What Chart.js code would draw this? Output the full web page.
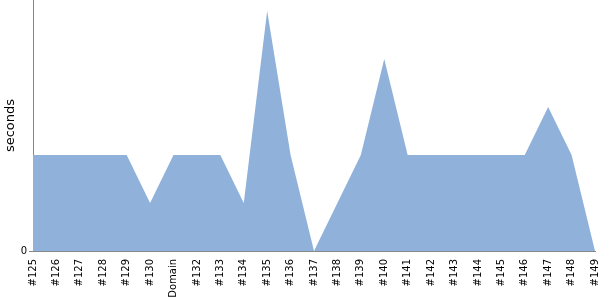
<!DOCTYPE html>
<html><head><meta charset="utf-8">
<script src="https://cdn.jsdelivr.net/npm/chart.js@4/dist/chart.umd.min.js"></script>
<style>html,body{margin:0;padding:0;background:#fff}#w{width:600px;height:300px}</style>
</head><body><div id="w"><canvas id="c"></canvas></div>
<script>
const categories = ["#125","#126","#127","#128","#129","#130","Domain","#132","#133","#134","#135","#136","#137","#138","#139","#140","#141","#142","#143","#144","#145","#146","#147","#148","#149"];
const seconds = [2,2,2,2,2,1,2,2,2,1,5,2,0,1,2,4,2,2,2,2,2,2,3,2,0];
const yTicks = [0];
const FONT = "'DejaVu Sans', sans-serif";
new Chart(document.getElementById('c'), {
  type: 'line',
  data: { labels: categories, datasets: [{ data: seconds, fill: 'origin', backgroundColor: 'rgb(143,177,218)', borderWidth: 0, pointRadius: 0, tension: 0 }] },
  options: {
    responsive: true, maintainAspectRatio: false, animation: false,
    layout: { padding: { left: 0, right: 5, top: 0, bottom: 0 } },
    plugins: { legend: { display: false }, tooltip: { enabled: false } },
    scales: {
      x: {
        offset: false,
        grid: { display: false },
        border: { display: true, color: '#888', width: 1 },
        ticks: { minRotation: 90, maxRotation: 90, autoSkip: false, padding: 0, color: '#000', font: { family: FONT, size: 10 } },
        afterFit: s => { s.height = 49; s.paddingLeft = 0; s.paddingRight = 0; }
      },
      y: {
        min: 0, max: 5.23,
        afterBuildTicks: a => { a.ticks = yTicks.map(v => ({ value: v })); },
        grid: { drawOnChartArea: false, drawTicks: true, tickLength: 4, color: '#888' },
        border: { display: true, color: '#888', width: 1 },
        ticks: { color: '#000', padding: 2, font: { family: FONT, size: 10 } },
        title: { display: true, text: 'seconds', color: '#000', padding: { top: 3, bottom: 0 }, font: { family: FONT, size: 13 } },
        afterFit: s => { s.width = 33; s.paddingTop = 0; s.paddingBottom = 0; }
      }
    }
  }
});
</script></body></html>
